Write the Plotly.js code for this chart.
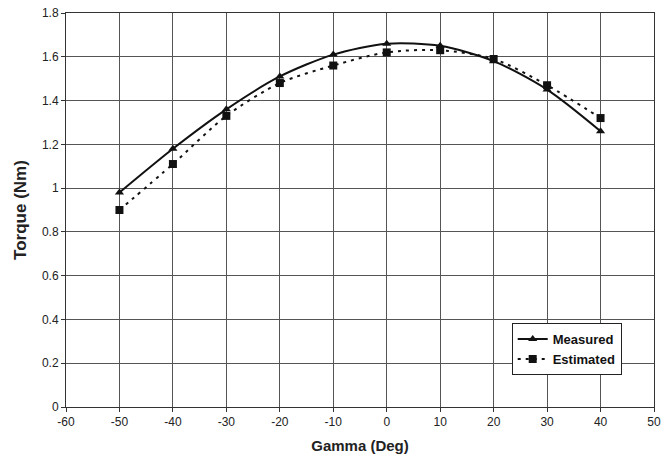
<!DOCTYPE html>
<html>
<head>
<meta charset="utf-8">
<script src="https://cdn.plot.ly/plotly-3.0.1.min.js"></script>
<style>html,body{margin:0;padding:0;background:#fff;}#chart{width:671px;height:467px;}</style>
</head>
<body>
<div id="chart"></div>
<script>
const gamma = [-50, -40, -30, -20, -10, 0, 10, 20, 30, 40];
const measured = [0.98, 1.18, 1.36, 1.51, 1.61, 1.66, 1.65, 1.58, 1.45, 1.26];
const estimated = [0.90, 1.11, 1.33, 1.48, 1.56, 1.62, 1.63, 1.59, 1.47, 1.32];
const xTicks = [-60, -50, -40, -30, -20, -10, 0, 10, 20, 30, 40, 50];
const yTicks = [0, 0.2, 0.4, 0.6, 0.8, 1, 1.2, 1.4, 1.6, 1.8];

const traces = [
  {x: gamma, y: measured, name: 'Measured', mode: 'lines+markers',
   line: {color: '#111', width: 2, shape: 'spline', smoothing: 0.8},
   marker: {symbol: 'triangle-up', size: 8, color: '#111'}},
  {x: gamma, y: estimated, name: 'Estimated', mode: 'lines+markers',
   line: {color: '#111', width: 2, shape: 'spline', smoothing: 0.8, dash: '3px,5px'},
   marker: {symbol: 'square', size: 8, color: '#111'}}
];

const layout = {
  width: 671, height: 467,
  margin: {l: 66, r: 17, t: 13, b: 60},
  paper_bgcolor: '#fff', plot_bgcolor: '#fff',
  font: {family: 'Liberation Sans, Arial, sans-serif', color: '#222', size: 12},
  showlegend: true,
  legend: {x: 0.758, y: 0.213, xanchor: 'left', yanchor: 'top',
    bgcolor: '#fff', bordercolor: '#222', borderwidth: 1,
    font: {size: 13, color: '#111', family: 'Liberation Sans, Arial, sans-serif', weight: 'bold'},
    tracegroupgap: 2},
  xaxis: {range: [-60, 50], tickvals: xTicks, ticktext: xTicks.map(String),
    showgrid: true, gridcolor: '#555', gridwidth: 1,
    showline: true, linecolor: '#333', linewidth: 1, mirror: true,
    ticks: 'outside', ticklen: 4, tickcolor: '#333', zeroline: false,
    tickfont: {size: 12, color: '#222'},
    title: {text: 'Gamma (Deg)', font: {size: 15, color: '#222', weight: 'bold'}, standoff: 12}},
  yaxis: {range: [0, 1.8], tickvals: yTicks, ticktext: yTicks.map(String),
    showgrid: true, gridcolor: '#555', gridwidth: 1,
    showline: true, linecolor: '#333', linewidth: 1, mirror: true,
    ticks: 'outside', ticklen: 4, tickcolor: '#333', zeroline: false,
    tickfont: {size: 12, color: '#222'},
    title: {text: 'Torque (Nm)', font: {size: 17, color: '#222', weight: 'bold'}, standoff: 10}}
};

Plotly.newPlot('chart', traces, layout, {displayModeBar: false, staticPlot: true});
</script>
</body>
</html>
